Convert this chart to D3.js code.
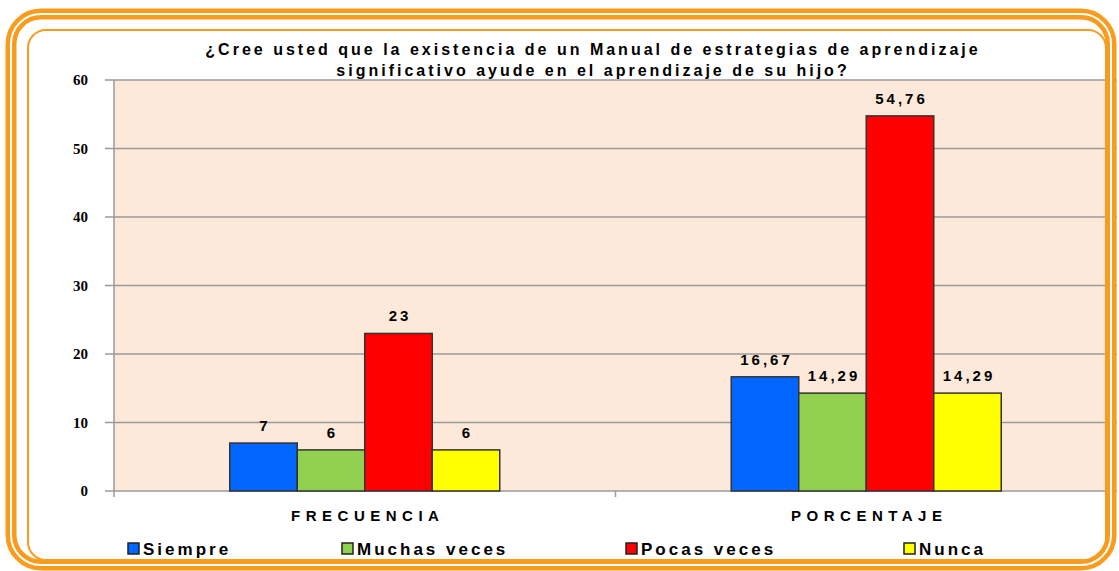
<!DOCTYPE html>
<html>
<head>
<meta charset="utf-8">
<script src="https://cdn.jsdelivr.net/npm/d3@7"></script>
<style>
    body { margin: 0; background: #fff; }
    text { font-family: "Liberation Sans", Arial, sans-serif; font-weight: bold; fill: #000; }
</style>
</head>
<body>
<script>
var categories = ["FRECUENCIA", "PORCENTAJE"];
var seriesNames = ["Siempre", "Muchas veces", "Pocas veces", "Nunca"];
var seriesColors = ["#0066ff", "#92d050", "#ff0000", "#ffff00"];
var frecuencia = [7, 6, 23, 6];
var porcentaje = [16.67, 14.29, 54.76, 14.29];
var yTicks = [0, 10, 20, 30, 40, 50, 60];
var titleLines = ["¿Cree usted que la existencia de un Manual de estrategias de aprendizaje",
    "significativo ayude en el aprendizaje de su hijo?"];

var width = 1119, height = 571;
var margin = {top: 80, right: 2, bottom: 80, left: 114};
var orange = "#f99b1c";

var svg = d3.select("body").append("svg")
    .attr("width", width)
    .attr("height", height);

var rows = categories.map(function (c, i) {
    return {cat: c, values: [frecuencia, porcentaje][i]};
});

var x0 = d3.scaleBand()
    .domain(categories)
    .range([margin.left, width - margin.right]);

var x1 = d3.scaleBand()
    .domain(seriesNames)
    .range([0, 270]);

var y = d3.scaleLinear()
    .domain([0, 60])
    .range([height - margin.bottom, margin.top]);

// plot background
svg.append("rect")
    .attr("x", margin.left)
    .attr("y", y(60))
    .attr("width", width - margin.right - margin.left)
    .attr("height", y(0) - y(60))
    .style("fill", "#fde9d9");

// gridlines
svg.append("g")
    .selectAll("line")
    .data(yTicks)
    .enter().append("line")
    .attr("x1", margin.left - 9)
    .attr("x2", width - margin.right)
    .attr("y1", function (d) { return y(d); })
    .attr("y2", function (d) { return y(d); })
    .style("stroke", "#9a9a9a")
    .style("stroke-width", 1.5);

// y axis line
svg.append("line")
    .attr("x1", margin.left).attr("x2", margin.left)
    .attr("y1", y(60)).attr("y2", y(0) + 6)
    .style("stroke", "#9a9a9a")
    .style("stroke-width", 1.5);

// category divider tick
svg.append("line")
    .attr("x1", x0(categories[1])).attr("x2", x0(categories[1]))
    .attr("y1", y(0)).attr("y2", y(0) + 6)
    .style("stroke", "#9a9a9a")
    .style("stroke-width", 1.5);

// y tick labels
svg.append("g")
    .selectAll("text")
    .data(yTicks)
    .enter().append("text")
    .attr("x", margin.left - 26)
    .attr("y", function (d) { return y(d); })
    .attr("dy", "0.35em")
    .attr("text-anchor", "end")
    .style("font-family", "'Liberation Serif', 'Times New Roman', serif")
    .style("font-size", "15px")
    .text(function (d) { return d; });

// bars
var groups = svg.selectAll(".group")
    .data(rows)
    .enter().append("g")
    .attr("class", "group")
    .attr("transform", function (d) {
        return "translate(" + (x0(d.cat) + x0.bandwidth() / 2 - 135) + ",0)";
    });

groups.selectAll("rect")
    .data(function (d) {
        return d.values.map(function (v, i) { return {name: seriesNames[i], value: v, color: seriesColors[i]}; });
    })
    .enter().append("rect")
    .attr("x", function (d) { return x1(d.name); })
    .attr("y", function (d) { return y(d.value); })
    .attr("width", x1.bandwidth())
    .attr("height", function (d) { return y(0) - y(d.value); })
    .style("fill", function (d) { return d.color; })
    .style("stroke", "#333")
    .style("stroke-width", 1.5);

groups.selectAll(".lbl")
    .data(function (d) {
        return d.values.map(function (v, i) { return {name: seriesNames[i], value: v}; });
    })
    .enter().append("text")
    .attr("class", "lbl")
    .attr("x", function (d) { return x1(d.name) + x1.bandwidth() / 2 + 1.5; })
    .attr("y", function (d) { return y(d.value) - 12; })
    .attr("text-anchor", "middle")
    .style("font-size", "15px")
    .style("letter-spacing", "3px")
    .text(function (d) { return String(d.value).replace(".", ","); });

// category labels
svg.append("g")
    .selectAll("text")
    .data(categories)
    .enter().append("text")
    .attr("x", function (d) { return x0(d) + x0.bandwidth() / 2 + 3; })
    .attr("y", 521)
    .attr("text-anchor", "middle")
    .style("font-size", "15px")
    .style("letter-spacing", "5.5px")
    .text(function (d) { return d; });

// title
svg.append("g")
    .selectAll("text")
    .data(titleLines)
    .enter().append("text")
    .attr("x", 593)
    .attr("y", function (d, i) { return 55 + i * 21; })
    .attr("text-anchor", "middle")
    .style("font-size", "16px")
    .style("letter-spacing", "3px")
    .text(function (d) { return d; });

// legend
var legendX = [128, 342, 626, 904];
var legend = svg.append("g")
    .selectAll("g")
    .data(seriesNames)
    .enter().append("g")
    .attr("transform", function (d, i) { return "translate(" + legendX[i] + ",543)"; });

legend.append("rect")
    .attr("width", 11)
    .attr("height", 11)
    .style("fill", function (d, i) { return seriesColors[i]; })
    .style("stroke", "#222")
    .style("stroke-width", 1.5);

legend.append("text")
    .attr("x", 15)
    .attr("y", 12)
    .style("font-size", "17px")
    .style("letter-spacing", "3px")
    .text(function (d) { return d; });

// frame
svg.append("rect")
    .attr("x", 11).attr("y", 14)
    .attr("width", 1100).attr("height", 551)
    .attr("rx", 30)
    .style("fill", "none")
    .style("stroke", orange)
    .style("stroke-width", 11);

svg.append("rect")
    .attr("x", 11).attr("y", 14)
    .attr("width", 1100).attr("height", 551)
    .attr("rx", 30)
    .style("fill", "none")
    .style("stroke", "#fff")
    .style("stroke-width", 2);

svg.append("rect")
    .attr("x", 28).attr("y", 30)
    .attr("width", 1078).attr("height", 530)
    .attr("rx", 18)
    .style("fill", "none")
    .style("stroke", orange)
    .style("stroke-width", 2);
</script>
</body>
</html>
